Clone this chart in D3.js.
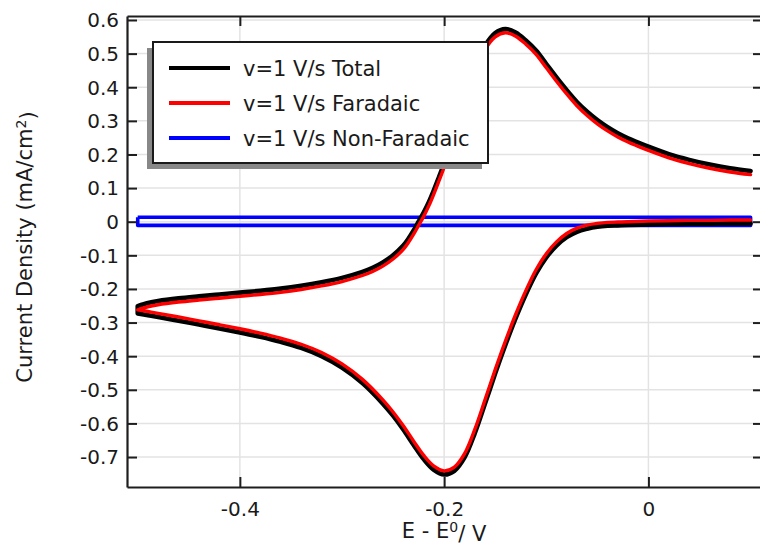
<!DOCTYPE html>
<html>
<head>
<meta charset="utf-8">
<script src="https://cdn.jsdelivr.net/npm/d3@7"></script>
<style>
  html, body { margin: 0; padding: 0; background: #fff; }
  svg { display: block; font-family: "DejaVu Sans", sans-serif; }
</style>
</head>
<body>
<svg id="chart" width="760" height="543"></svg>
<script>
// Cyclic voltammogram at v = 1 V/s: anodic sweep (E increasing)
const eUp = [-0.5, -0.49, -0.48, -0.46, -0.44, -0.42, -0.40, -0.38, -0.36, -0.34,
  -0.32, -0.30, -0.28, -0.27, -0.26, -0.25, -0.24, -0.235, -0.23, -0.225,
  -0.22, -0.215, -0.21, -0.205, -0.20, -0.19, -0.18, -0.17, -0.16, -0.15,
  -0.14, -0.13, -0.12, -0.11, -0.10, -0.09, -0.08, -0.07, -0.06, -0.05,
  -0.04, -0.03, -0.02, -0.01, 0.00, 0.02, 0.04, 0.06, 0.08, 0.10];
const faradaicUp = [-0.262, -0.253, -0.247, -0.239, -0.233, -0.2275, -0.222, -0.2165, -0.210, -0.2015,
  -0.191, -0.178, -0.160, -0.148, -0.132, -0.111, -0.082, -0.062, -0.038, -0.011,
  0.016, 0.047, 0.083, 0.122, 0.162, 0.255, 0.350, 0.445, 0.512, 0.550,
  0.562, 0.552, 0.528, 0.498, 0.458, 0.418, 0.380, 0.345, 0.316, 0.291,
  0.270, 0.252, 0.237, 0.224, 0.212, 0.190, 0.173, 0.159, 0.148, 0.140];
const totalUp = [-0.251, -0.242, -0.236, -0.228, -0.222, -0.2165, -0.211, -0.2055, -0.199, -0.1905,
  -0.180, -0.167, -0.149, -0.137, -0.121, -0.100, -0.071, -0.051, -0.027, 0.000,
  0.027, 0.058, 0.094, 0.133, 0.173, 0.266, 0.361, 0.456, 0.523, 0.561,
  0.573, 0.563, 0.539, 0.509, 0.469, 0.429, 0.391, 0.356, 0.327, 0.302,
  0.281, 0.263, 0.248, 0.235, 0.223, 0.201, 0.184, 0.170, 0.159, 0.151];

// Cathodic sweep (E decreasing)
const eDown = [0.10, 0.08, 0.06, 0.04, 0.02, 0.00, -0.02, -0.03, -0.04, -0.05,
  -0.06, -0.07, -0.08, -0.09, -0.10, -0.11, -0.12, -0.13, -0.14, -0.15,
  -0.16, -0.17, -0.18, -0.19, -0.20, -0.21, -0.22, -0.23, -0.24, -0.25,
  -0.26, -0.28, -0.30, -0.32, -0.34, -0.36, -0.38, -0.40, -0.42, -0.44,
  -0.46, -0.48, -0.49, -0.50];
const faradaicDown = [0.005, 0.005, 0.004, 0.004, 0.003, 0.002, 0.000, -0.001, -0.002, -0.005,
  -0.010, -0.019, -0.035, -0.060, -0.095, -0.143, -0.205, -0.276, -0.355, -0.440,
  -0.530, -0.618, -0.690, -0.730, -0.741, -0.727, -0.695, -0.652, -0.607, -0.566,
  -0.530, -0.469, -0.423, -0.389, -0.3645, -0.3465, -0.3315, -0.3185, -0.3065, -0.295,
  -0.2835, -0.2725, -0.267, -0.262];
const totalDown = [-0.005, -0.005, -0.006, -0.006, -0.007, -0.008, -0.010, -0.011, -0.012, -0.015,
  -0.021, -0.030, -0.046, -0.071, -0.106, -0.154, -0.216, -0.287, -0.366, -0.451,
  -0.541, -0.629, -0.701, -0.741, -0.752, -0.738, -0.706, -0.663, -0.618, -0.577,
  -0.541, -0.480, -0.434, -0.400, -0.3755, -0.3575, -0.3425, -0.3295, -0.3175, -0.306,
  -0.2945, -0.2835, -0.278, -0.273];

// Double-layer (non-Faradaic) current: one closed loop over the cycle
const nonFaradaicE = [-0.5, 0.1, 0.1, -0.5, -0.5];
const nonFaradaicI = [0.0135, 0.0135, -0.011, -0.011, 0.0135];

// Axis ticks
const xTicks = [-0.4, -0.2, 0];
const xTickLabels = ["-0.4", "-0.2", "0"];
const yTicks = [0.6, 0.5, 0.4, 0.3, 0.2, 0.1, 0, -0.1, -0.2, -0.3, -0.4, -0.5, -0.6, -0.7];
const yTickLabels = ["0.6", "0.5", "0.4", "0.3", "0.2", "0.1", "0", "-0.1", "-0.2", "-0.3", "-0.4", "-0.5", "-0.6", "-0.7"];

// Legend
const legendLabels = ["v=1 V/s Total", "v=1 V/s Faradaic", "v=1 V/s Non-Faradaic"];
const seriesColors = ["#000000", "#ff0000", "#0000ff"];

const svg = d3.select("#chart");
const plot = { left: 127, right: 762, top: 16, bottom: 487 };

const x = d3.scaleLinear().domain([-0.5105, 0.1112]).range([plot.left, plot.right]);
const y = d3.scaleLinear().domain([-0.7891, 0.6119]).range([plot.bottom, plot.top]);

const axisColor = "#1e1e1e";
const gridColor = "#e3e3e3";

// Grid
const grid = svg.append("g");
grid.selectAll(".gx").data(xTicks).join("line")
  .attr("x1", d => x(d)).attr("x2", d => x(d))
  .attr("y1", plot.top).attr("y2", plot.bottom)
  .attr("stroke", gridColor).attr("stroke-width", 1.5);
grid.selectAll(".gy").data(yTicks).join("line")
  .attr("x1", plot.left).attr("x2", plot.right)
  .attr("y1", d => y(d)).attr("y2", d => y(d))
  .attr("stroke", gridColor).attr("stroke-width", 1.5);

// Curves
const toPts = (es, is) => es.map((e, i) => [e, is[i]]);
const smooth = d3.line().x(d => x(d[0])).y(d => y(d[1])).curve(d3.curveCatmullRom.alpha(0.5));
const straight = d3.line().x(d => x(d[0])).y(d => y(d[1]));

// Cathodic branch in sweep order, then a straight join at the switching
// potential into the anodic branch.
function cyclePath(down, up) {
  return smooth(down) + smooth(up).replace(/^M/, "L");
}

const curves = svg.append("g");
curves.append("path")
  .attr("d", straight(toPts(nonFaradaicE, nonFaradaicI)))
  .attr("fill", "none").attr("stroke", seriesColors[2])
  .attr("stroke-width", 3.6).attr("stroke-linejoin", "round");
curves.append("path")
  .attr("d", cyclePath(toPts(eDown, totalDown), toPts(eUp, totalUp)))
  .attr("fill", "none").attr("stroke", seriesColors[0])
  .attr("stroke-width", 4.6).attr("stroke-linejoin", "round").attr("stroke-linecap", "round");
curves.append("path")
  .attr("d", cyclePath(toPts(eDown, faradaicDown), toPts(eUp, faradaicUp)))
  .attr("fill", "none").attr("stroke", seriesColors[1])
  .attr("stroke-width", 3.4).attr("stroke-linejoin", "round").attr("stroke-linecap", "round");

// Axes (ticks point into the plot)
const tickFont = 20;
const gLeft = svg.append("g").attr("transform", `translate(${plot.left},0)`)
  .call(d3.axisLeft(y).tickValues(yTicks).tickSizeInner(-10).tickSizeOuter(0)
    .tickPadding(8).tickFormat((d, i) => yTickLabels[i]));
const gBottom = svg.append("g").attr("transform", `translate(0,${plot.bottom})`)
  .call(d3.axisBottom(x).tickValues(xTicks).tickSizeInner(-10).tickSizeOuter(0)
    .tickPadding(15).tickFormat((d, i) => xTickLabels[i]));
const gTop = svg.append("g").attr("transform", `translate(0,${plot.top})`)
  .call(d3.axisTop(x).tickValues(xTicks).tickSizeInner(-10).tickSizeOuter(0).tickFormat(""));
const gRight = svg.append("g").attr("transform", `translate(${plot.right},0)`)
  .call(d3.axisRight(y).tickValues(yTicks).tickSizeInner(-9).tickSizeOuter(0).tickFormat(""));

[gLeft, gBottom, gTop, gRight].forEach(g => {
  g.select(".domain").attr("stroke", axisColor).attr("stroke-width", 2.2);
  g.selectAll(".tick line").attr("stroke", axisColor).attr("stroke-width", 2);
  g.selectAll(".tick text").attr("fill", "#1a1a1a")
    .style("font-family", '"DejaVu Sans", sans-serif').style("font-size", tickFont + "px");
});
gLeft.selectAll(".tick text").attr("dy", "0.34em");
gBottom.selectAll(".tick text").attr("dy", "0.71em");

// Axis titles
const yTitle = svg.append("text")
  .attr("transform", "translate(32,247) rotate(-90)")
  .attr("text-anchor", "middle").attr("fill", "#1a1a1a")
  .style("font-size", "21px");
yTitle.append("tspan").text("Current Density (mA/cm");
yTitle.append("tspan").attr("dy", "-0.45em").style("font-size", "14px").text("2");
yTitle.append("tspan").attr("dy", "0.45em").text(")");

const xTitle = svg.append("text")
  .attr("x", 444).attr("y", 538)
  .attr("text-anchor", "middle").attr("fill", "#1a1a1a")
  .style("font-size", "21px");
xTitle.append("tspan").text("E - E");
xTitle.append("tspan").attr("dy", "-0.45em").style("font-size", "14px").text("0");
xTitle.append("tspan").attr("dy", "0.45em").text("/ V");

// Legend with drop shadow
const legend = svg.append("g");
const box = { x: 153, y: 42, w: 335, h: 121 };
legend.append("rect")
  .attr("x", box.x - 6).attr("y", box.y + 6).attr("width", box.w).attr("height", box.h)
  .attr("fill", "#888888");
legend.append("rect")
  .attr("x", box.x).attr("y", box.y).attr("width", box.w).attr("height", box.h)
  .attr("fill", "#ffffff").attr("stroke", "#1a1a1a").attr("stroke-width", 2);
const rowY = d3.scalePoint().domain(legendLabels).range([68, 138]);
const rows = legend.selectAll(".row").data(legendLabels).join("g");
rows.append("line")
  .attr("x1", 169).attr("x2", 230)
  .attr("y1", d => rowY(d)).attr("y2", d => rowY(d))
  .attr("stroke", (d, i) => seriesColors[i]).attr("stroke-width", 4);
rows.append("text")
  .attr("x", 243).attr("y", d => rowY(d) + 7.5)
  .attr("fill", "#1a1a1a").style("font-size", "21px")
  .text(d => d);
</script>
</body>
</html>
